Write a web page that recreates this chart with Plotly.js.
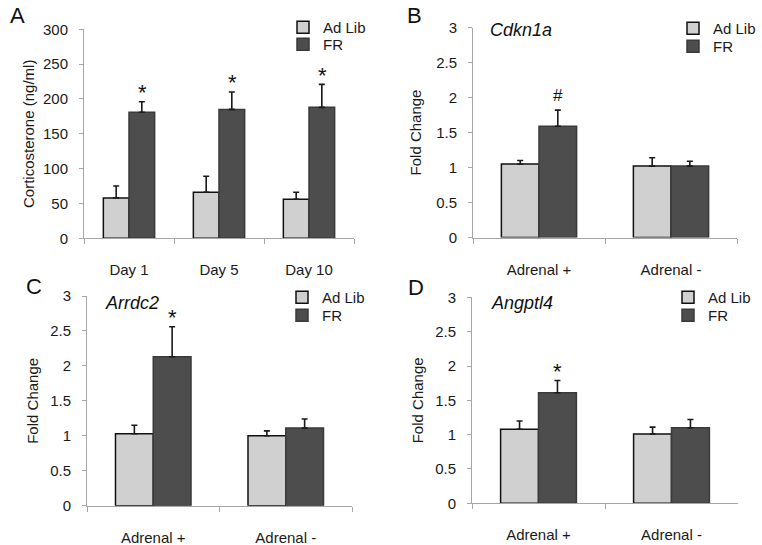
<!DOCTYPE html>
<html>
<head>
<meta charset="utf-8">
<script src="https://cdn.plot.ly/plotly-3.0.1.min.js"></script>
<style>html,body{margin:0;padding:0;background:#fff}#chart{width:762px;height:545px}</style>
</head>
<body>
<div id="chart"></div>
<script>
// ---- Data ----
var seriesNames = ["Ad Lib", "FR"];
// Panel A: Corticosterone (ng/ml)
var daysA = ["Day 1", "Day 5", "Day 10"];
var adLibA = [58, 66, 56];
var adLibErrA = [17, 23, 10];
var frA = [181, 185, 188];
var frErrA = [15, 25, 33];
var sigA = ["*", "*", "*"];
// Panels B-D: fold change
var groups = ["Adrenal +", "Adrenal -"];
var geneB = "Cdkn1a";
var adLibB = [1.05, 1.02];
var adLibErrB = [0.05, 0.12];
var frB = [1.59, 1.02];
var frErrB = [0.23, 0.07];
var sigB = ["#", ""];
var geneC = "Arrdc2";
var adLibC = [1.03, 1.00];
var adLibErrC = [0.12, 0.07];
var frC = [2.13, 1.11];
var frErrC = [0.43, 0.13];
var sigC = ["*", ""];
var geneD = "Angptl4";
var adLibD = [1.08, 1.01];
var adLibErrD = [0.12, 0.10];
var frD = [1.61, 1.10];
var frErrD = [0.18, 0.12];
var sigD = ["*", ""];
var panelLetters = ["A", "B", "C", "D"];

// ---- Styles ----
var FONT = "Liberation Sans, Arial, Helvetica, sans-serif";
var colAd = "#d0d0d0", colFR = "#4d4d4d";
var BARGAP = [0.42, 0.43, 0.43, 0.43];

function zeros(n){var a=[];for(var i=0;i<n;i++)a.push(0);return a;}
function barTrace(name, cats, vals, errs, color, lineColor, lg, idx){
  return {
    type: "bar", name: name, x: cats, y: vals,
    xaxis: "x" + (idx===1?"":idx), yaxis: "y" + (idx===1?"":idx),
    legend: lg,
    marker: {color: color, line: {color: lineColor, width: 1.5}},
    error_y: {type: "data", array: errs, arrayminus: zeros(errs.length), symmetric: false,
              color: "#1a1a1a", thickness: 1.6, width: 3},
    hoverinfo: "skip"
  };
}
var panels = [
  {cats: daysA, ad: adLibA, adE: adLibErrA, fr: frA, frE: frErrA, sig: sigA},
  {cats: groups, ad: adLibB, adE: adLibErrB, fr: frB, frE: frErrB, sig: sigB},
  {cats: groups, ad: adLibC, adE: adLibErrC, fr: frC, frE: frErrC, sig: sigC},
  {cats: groups, ad: adLibD, adE: adLibErrD, fr: frD, frE: frErrD, sig: sigD}
];
var data = [];
panels.forEach(function(p, k){
  var la = "legend" + (2*k === 0 ? "" : String(2*k+1));
  var lb = "legend" + String(2*k+2);
  data.push(barTrace(seriesNames[0], p.cats, p.ad, p.adE, colAd, "#111111", la, k+1));
  data.push(barTrace(seriesNames[1], p.cats, p.fr, p.frE, colFR, "#3a3a3a", lb, k+1));
});

var W = 762, H = 545;
function px(x){return x/W;}
function py(y){return 1 - y/H;}
var dom = [
  {x:[84,354], y:[238.3,29.3]},
  {x:[473,737], y:[237.5,27.5]},
  {x:[87,352], y:[505.7,296]},
  {x:[472,738], y:[503.3,297.4]}
];
var layout = {
  width: W, height: H,
  margin: {l:0, r:0, t:0, b:0},
  paper_bgcolor: "#ffffff", plot_bgcolor: "#ffffff",
  font: {family: FONT, size: 15, color: "#1a1a1a"},
  showlegend: true,
  barmode: "group",
  bargap: 0.43,
  annotations: [], shapes: []
};
var yTitles = ["Corticosterone (ng/ml)", "Fold Change", "Fold Change", "Fold Change"];
var yRanges = [[0,300],[0,3],[0,3],[0,3]];
var yDticks = [50, 0.5, 0.5, 0.5];
var standoffs = [4, 10, 7, 7];
for (var k=0;k<4;k++){
  var sfx = k===0 ? "" : String(k+1);
  layout["xaxis"+sfx] = {
    domain: [px(dom[k].x[0]), px(dom[k].x[1])],
    anchor: "y"+sfx, type: "category",
    showline: true, linecolor: "#a6a6a6", linewidth: 1,
    ticks: "outside", tickson: "boundaries", ticklen: 5, tickcolor: "#a6a6a6",
    ticklabelstandoff: 18,
    showgrid: false, zeroline: false, fixedrange: true,
    tickfont: {family: FONT, size: 15, color: "#1a1a1a"}
  };
  layout["yaxis"+sfx] = {
    domain: [py(dom[k].y[0]), py(dom[k].y[1])],
    anchor: "x"+sfx, range: yRanges[k], dtick: yDticks[k], tick0: 0,
    showline: true, linecolor: "#a6a6a6", linewidth: 1,
    ticks: "outside", ticklen: 4, tickcolor: "#a6a6a6",
    ticklabelstandoff: 8,
    showgrid: false, zeroline: false, fixedrange: true,
    tickfont: {family: FONT, size: 15, color: "#1a1a1a"},
    title: {text: yTitles[k], font: {family: FONT, size: 15, color: "#1a1a1a"}, standoff: standoffs[k]}
  };
}
// legends: one per entry so rows sit as in the reference
var legPos = [[283, 11], [283, 28], [673, 12], [673, 30], [282, 281], [282, 299], [668, 281], [668, 299]];
for (var j=0;j<8;j++){
  var id = "legend" + (j===0 ? "" : String(j+1));
  layout[id] = {
    x: px(legPos[j][0]), y: py(legPos[j][1]), xanchor: "left", yanchor: "top",
    bgcolor: "rgba(0,0,0,0)", borderwidth: 0,
    font: {family: FONT, size: 15, color: "#1a1a1a"},
    tracegroupgap: 0, itemclick: false, itemdoubleclick: false
  };
}
// panel letters
var letterPos = [[17,15],[415,15],[34,286],[416,287]];
for (var k=0;k<4;k++){
  layout.annotations.push({xref:"paper", yref:"paper", x: px(letterPos[k][0]), y: py(letterPos[k][1]),
    xanchor:"center", yanchor:"middle", showarrow:false, text: panelLetters[k],
    font:{family:FONT, size:22, color:"#111"}});
}
// gene names
var genes = [[geneB, 488, 30], [geneC, 103, 303], [geneD, 489, 303]];
genes.forEach(function(g){
  layout.annotations.push({xref:"paper", yref:"paper", x: px(g[1]), y: py(g[2]),
    xanchor:"left", yanchor:"middle", showarrow:false, text: "<i>"+g[0]+"</i>",
    font:{family:FONT, size:18, color:"#111"}});
});
// significance markers above FR bars
panels.forEach(function(p, k){
  var sfx = k===0 ? "" : String(k+1);
  var off = (1 - BARGAP[k]) / 4;
  p.sig.forEach(function(s, i){
    if (!s) return;
    var isStar = s === "*";
    layout.annotations.push({xref:"x"+sfx, yref:"y"+sfx, x: i + off, y: p.fr[i] + p.frE[i],
      xanchor:"center", yanchor:"middle", yshift: isStar ? 9 : 15, showarrow:false, text: s,
      font:{family:FONT, size: isStar ? 22 : 17, color:"#111"}});
  });
});
Plotly.newPlot("chart", data, layout, {staticPlot: true, displayModeBar: false});
</script>
</body>
</html>
